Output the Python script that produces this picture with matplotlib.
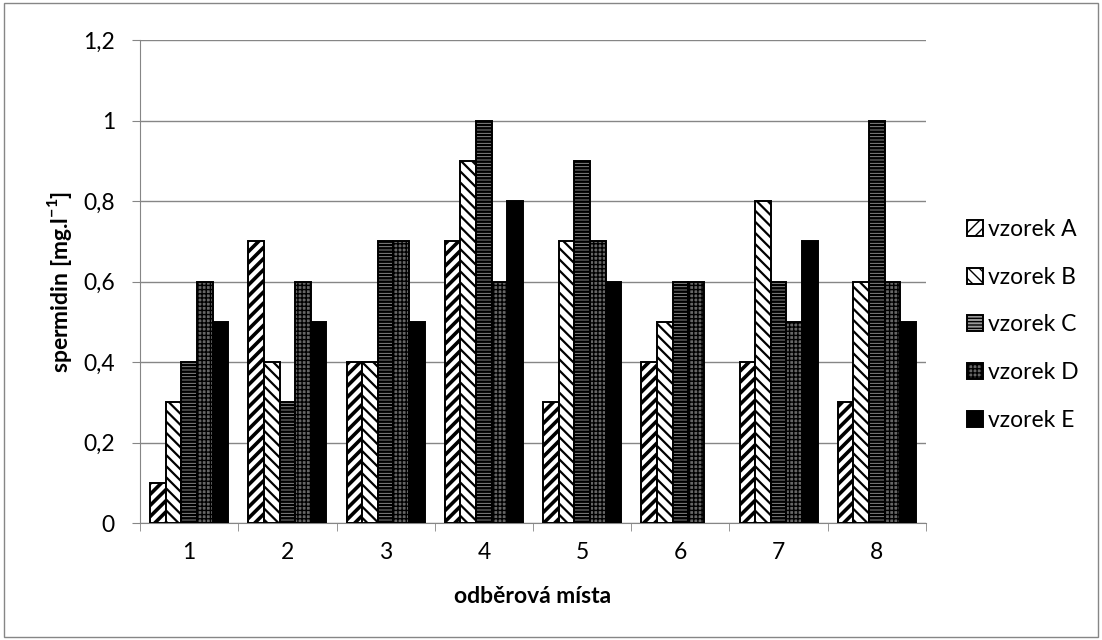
import numpy as np
import matplotlib as mpl
import matplotlib.pyplot as plt
from matplotlib.patches import Rectangle

plt.rcParams['font.family'] = ['Lato', 'DejaVu Sans']

# ---------- data ----------
sites = ["1", "2", "3", "4", "5", "6", "7", "8"]
vzorek_a = [0.1, 0.7, 0.4, 0.7, 0.3, 0.4, 0.4, 0.3]
vzorek_b = [0.3, 0.4, 0.4, 0.9, 0.7, 0.5, 0.8, 0.6]
vzorek_c = [0.4, 0.3, 0.7, 1.0, 0.9, 0.6, 0.6, 1.0]
vzorek_d = [0.6, 0.6, 0.7, 0.6, 0.7, 0.6, 0.5, 0.6]
vzorek_e = [0.5, 0.5, 0.5, 0.8, 0.6, None, 0.7, 0.5]   # site 6: no value
series_names = ["vzorek A", "vzorek B", "vzorek C", "vzorek D", "vzorek E"]
yticks = [0, 0.2, 0.4, 0.6, 0.8, 1.0, 1.2]
ytick_labels = ["0", "0,2", "0,4", "0,6", "0,8", "1", "1,2"]

series = [vzorek_a, vzorek_b, vzorek_c, vzorek_d, vzorek_e]
# (facecolor, hatch, hatch linewidth)
styles = [
    ("white", "///", 2.6),
    ("white", "\\\\\\", 1.6),
    ("#9a9a9a", "-----", 1.8),
    ("#666666", "++++", 1.0),
    ("black", None, 1.0),
]
FS = 16.5

fig = plt.figure(figsize=(11.02, 6.4), dpi=100)
ax = fig.add_axes([140 / 1102, 1 - 523 / 640, (926 - 140) / 1102, (523 - 40) / 640])

x = np.arange(len(sites))
w = 0.159
for i, (vals, name, (fc, hatch, hlw)) in enumerate(zip(series, series_names, styles)):
    heights = np.array([np.nan if v is None else v for v in vals], dtype=float)
    with mpl.rc_context({"hatch.linewidth": hlw}):
        ax.bar(x + (i - 2) * w, heights, width=w, facecolor=fc, hatch=hatch,
               edgecolor="black", linewidth=1.4, label=name, zorder=3)

ax.set_ylim(0, 1.2)
ax.set_xlim(-0.5, len(sites) - 0.5)
ax.set_yticks(yticks)
ax.set_yticklabels(ytick_labels, fontsize=FS)
ax.set_xticks(x)
ax.set_xticklabels(sites, fontsize=FS)
ax.set_xticks(np.arange(-0.5, len(sites)), minor=True)
ax.tick_params(axis="x", which="major", length=0, pad=14)
ax.tick_params(axis="x", which="minor", length=6, color="#868686", direction="out")
ax.tick_params(axis="y", length=6, color="#868686", direction="out", pad=12)
ax.grid(axis="y", color="#868686", linewidth=1, zorder=0)
for s in ["top", "right"]:
    ax.spines[s].set_visible(False)
for s in ["left", "bottom"]:
    ax.spines[s].set_color("#868686")

ax.set_ylabel("spermidin [mg.l$^{\\mathregular{-1}}$]", fontsize=FS, fontweight="bold", labelpad=7)
ax.set_xlabel("odběrová místa", fontsize=FS, fontweight="bold", labelpad=16)

ax.legend(loc="center left", bbox_to_anchor=(1.052, 0.41), frameon=False, fontsize=FS,
          handlelength=0.7, handleheight=0.7, handletextpad=0.22, labelspacing=1.17,
          borderpad=0, borderaxespad=0)

fig.patches.append(Rectangle((0.004, 0.004), 0.992, 0.992, transform=fig.transFigure,
                             fill=False, edgecolor="#868686", linewidth=1))

fig.savefig("out.png", dpi=100)
